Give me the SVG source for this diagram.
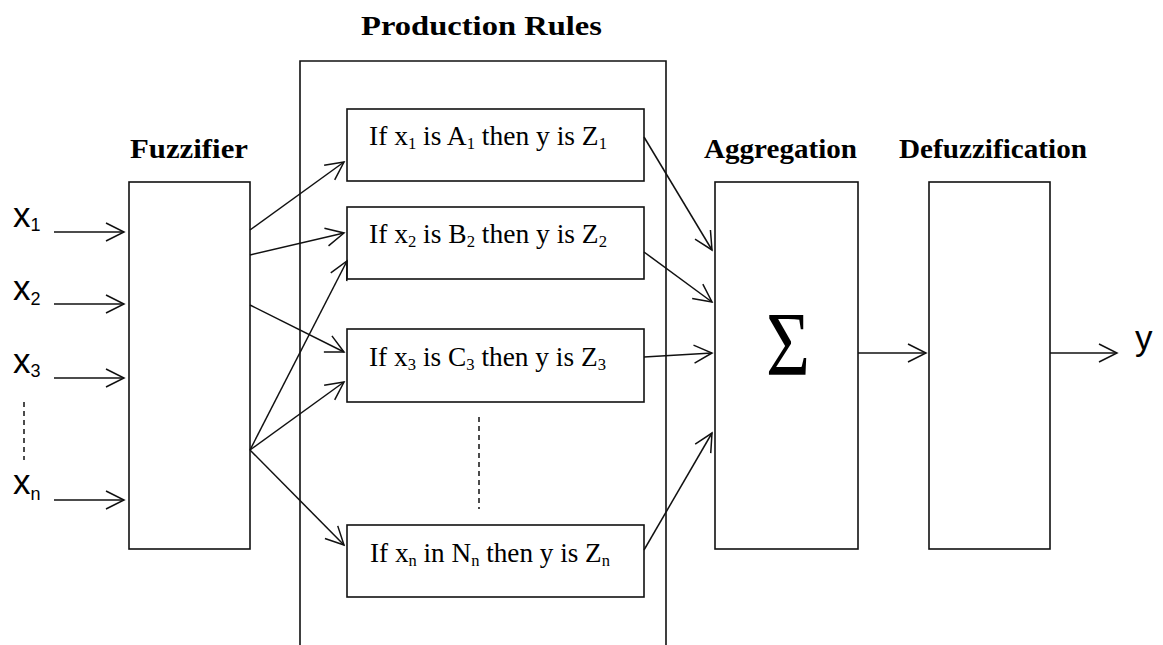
<svg xmlns="http://www.w3.org/2000/svg" width="1163" height="645" viewBox="0 0 1163 645">
  <style>
    .box { fill: #fff; stroke: #111; stroke-width: 1.6; }
    .title { font-family: "Liberation Serif", "Times New Roman", serif; font-weight: bold; font-size: 27px; fill: #000; }
    .rule { font-family: "Liberation Serif", "Times New Roman", serif; font-size: 28px; fill: #000; }
    .sub { font-size: 17px; }
    .var { font-family: "Liberation Sans", Arial, sans-serif; font-size: 35px; fill: #000; }
    .vsub { font-size: 18px; }
    .link { fill: none; stroke: #111; stroke-width: 1.5; }
    .dash { fill: none; stroke: #111; stroke-width: 1.5; stroke-dasharray: 5 4; }
  </style>
  <defs>
    <marker id="arrow" viewBox="0 0 22 22" markerWidth="22" markerHeight="22" refX="20" refY="11" orient="auto" markerUnits="userSpaceOnUse">
      <path d="M2,2 L20,11 L2,20" fill="none" stroke="#111" stroke-width="1.5"/>
    </marker>
  </defs>

  <rect width="1163" height="645" fill="#fff"/>

  <!-- Production rules frame (open at the bottom) -->
  <g id="production-rules">
    <path class="box" d="M300,646 L300,61 L666,61 L666,646" fill="none"/>
    <text class="title" x="361" y="35" textLength="241" lengthAdjust="spacingAndGlyphs">Production Rules</text>
  </g>

  <!-- Inputs -->
  <g id="inputs">
    <text class="var" x="13" y="227">x<tspan class="vsub" dy="4">1</tspan></text>
    <text class="var" x="13" y="300">x<tspan class="vsub" dy="5">2</tspan></text>
    <text class="var" x="13" y="373">x<tspan class="vsub" dy="4">3</tspan></text>
    <text class="var" x="13" y="494">x<tspan class="vsub" dy="6">n</tspan></text>
    <line class="dash" x1="24" y1="402" x2="24" y2="460" stroke-dasharray="4 3"/>
  </g>

  <!-- Fuzzifier -->
  <g id="fuzzifier">
    <rect class="box" x="129" y="182" width="121" height="367"/>
    <text class="title" x="130" y="158" textLength="118" lengthAdjust="spacingAndGlyphs">Fuzzifier</text>
  </g>

  <!-- Rule boxes -->
  <g id="rule-1">
    <rect class="box" x="347" y="109" width="297" height="72"/>
    <text class="rule" x="369" y="145" textLength="238" lengthAdjust="spacingAndGlyphs">If x<tspan class="sub" dy="4">1</tspan><tspan dy="-4"> is A</tspan><tspan class="sub" dy="4">1</tspan><tspan dy="-4"> then y is Z</tspan><tspan class="sub" dy="4">1</tspan></text>
  </g>
  <g id="rule-2">
    <rect class="box" x="347" y="207" width="297" height="72"/>
    <text class="rule" x="369" y="243" textLength="238" lengthAdjust="spacingAndGlyphs">If x<tspan class="sub" dy="4">2</tspan><tspan dy="-4"> is B</tspan><tspan class="sub" dy="4">2</tspan><tspan dy="-4"> then y is Z</tspan><tspan class="sub" dy="4">2</tspan></text>
  </g>
  <g id="rule-3">
    <rect class="box" x="347" y="329" width="297" height="73"/>
    <text class="rule" x="369" y="366" textLength="237" lengthAdjust="spacingAndGlyphs">If x<tspan class="sub" dy="4">3</tspan><tspan dy="-4"> is C</tspan><tspan class="sub" dy="4">3</tspan><tspan dy="-4"> then y is Z</tspan><tspan class="sub" dy="4">3</tspan></text>
  </g>
  <g id="rule-n">
    <rect class="box" x="347" y="525" width="297" height="72"/>
    <text class="rule" x="370" y="562" textLength="240" lengthAdjust="spacingAndGlyphs">If x<tspan class="sub" dy="4">n</tspan><tspan dy="-4"> in N</tspan><tspan class="sub" dy="4">n</tspan><tspan dy="-4"> then y is Z</tspan><tspan class="sub" dy="4">n</tspan></text>
  </g>
  <line class="dash" x1="479" y1="417" x2="479" y2="509"/>

  <!-- Aggregation -->
  <g id="aggregation">
    <rect class="box" x="715" y="182" width="143" height="367"/>
    <text class="title" x="704" y="158" textLength="153" lengthAdjust="spacingAndGlyphs">Aggregation</text>
    <text x="766" y="375" font-family="Liberation Serif, 'Times New Roman', serif" font-size="90" textLength="44" lengthAdjust="spacingAndGlyphs" fill="#000">Σ</text>
  </g>

  <!-- Defuzzification -->
  <g id="defuzzification">
    <rect class="box" x="929" y="182" width="121" height="367"/>
    <text class="title" x="899" y="158" textLength="188" lengthAdjust="spacingAndGlyphs">Defuzzification</text>
  </g>

  <!-- Output -->
  <g id="output">
    <text class="var" x="1135" y="350" font-size="34">y</text>
  </g>

  <!-- Connectors -->
  <g id="connectors">
    <line class="link" x1="54" y1="232" x2="124" y2="232" marker-end="url(#arrow)"/>
    <line class="link" x1="54" y1="304" x2="124" y2="304" marker-end="url(#arrow)"/>
    <line class="link" x1="54" y1="378" x2="124" y2="378" marker-end="url(#arrow)"/>
    <line class="link" x1="54" y1="500" x2="124" y2="500" marker-end="url(#arrow)"/>

    <line class="link" x1="250" y1="230" x2="344" y2="162" marker-end="url(#arrow)"/>
    <line class="link" x1="250" y1="255" x2="344" y2="233" marker-end="url(#arrow)"/>
    <line class="link" x1="250" y1="305" x2="344" y2="352" marker-end="url(#arrow)"/>
    <line class="link" x1="250" y1="450" x2="347" y2="261" marker-end="url(#arrow)"/>
    <line class="link" x1="250" y1="450" x2="344" y2="382" marker-end="url(#arrow)"/>
    <line class="link" x1="250" y1="450" x2="344" y2="545" marker-end="url(#arrow)"/>

    <line class="link" x1="644" y1="137" x2="712" y2="250" marker-end="url(#arrow)"/>
    <line class="link" x1="644" y1="252" x2="712" y2="302" marker-end="url(#arrow)"/>
    <line class="link" x1="644" y1="357" x2="712" y2="353" marker-end="url(#arrow)"/>
    <line class="link" x1="644" y1="550" x2="712" y2="433" marker-end="url(#arrow)"/>

    <line class="link" x1="858" y1="353" x2="926" y2="353" marker-end="url(#arrow)"/>
    <line class="link" x1="1050" y1="353" x2="1117" y2="353" marker-end="url(#arrow)"/>
  </g>
</svg>
